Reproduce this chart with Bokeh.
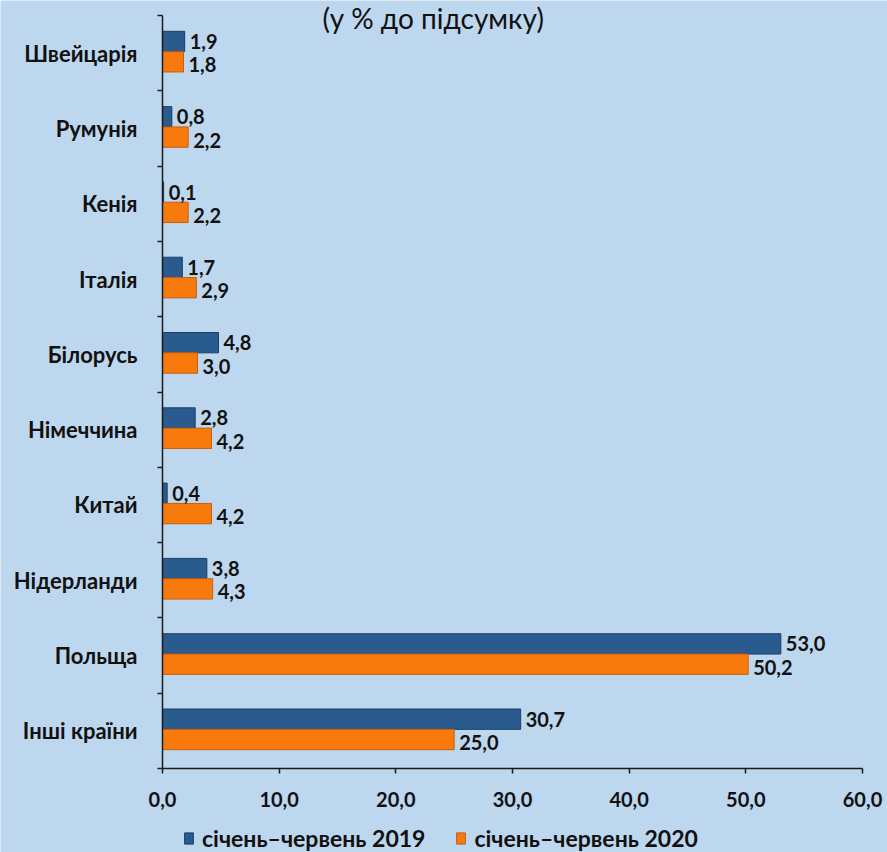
from bokeh.plotting import figure
from bokeh.models import (ColumnDataSource, Range1d, LinearAxis, FixedTicker,
                          CustomJSTickFormatter, Legend, LegendItem, Label)
from bokeh.core.properties import value
from bokeh.embed import file_html
from bokeh.resources import INLINE

# ---- data (top to bottom as in the chart) ----
countries = ["Швейцарія", "Румунія", "Кенія", "Італія", "Білорусь",
             "Німеччина", "Китай", "Нідерланди", "Польща", "Інші країни"]
v2019 = [1.9, 0.8, 0.1, 1.7, 4.8, 2.8, 0.4, 3.8, 53.0, 30.7]
v2020 = [1.8, 2.2, 2.2, 2.9, 3.0, 4.2, 4.2, 4.3, 50.2, 25.0]
x_ticks = [0, 10, 20, 30, 40, 50, 60]
series_names = ["січень–червень 2019", "січень–червень 2020"]
title_text = "(у % до підсумку)"

# ---- style / layout ----
BG = "#BDD7EE"
BLUE = "#2A5B8E"
BLUE_EDGE = "#1B3F66"
ORANGE = "#F97A0C"
ORANGE_EDGE = "#C65E10"
FONT = "Lato"
INK = "#111111"
W, HGT = 887, 852
PLOT_L, PLOT_R, PLOT_T, PLOT_B = 162, 862, 15, 768   # pixel box of the value area
XMAX = 60
n = len(countries)
px_x = (PLOT_R - PLOT_L) / XMAX
px_y = (PLOT_B - PLOT_T) / n

def fmt(v):
    return f"{v:.1f}".replace(".", ",")

# category slot k (0 = bottom) spans [k, k+1]
slot = [n - 1 - i for i in range(n)]
src = ColumnDataSource(dict(
    country=countries, slot=slot,
    y19=[s + 0.5 + 0.155 for s in slot], y20=[s + 0.5 - 0.115 for s in slot],
    v2019=v2019, v2020=v2020,
    l2019=[fmt(v) for v in v2019], l2020=[fmt(v) for v in v2020],
))

p = figure(width=W, height=HGT, output_backend="svg", toolbar_location=None,
           x_range=Range1d(-PLOT_L / px_x, (W - PLOT_L) / px_x),
           y_range=Range1d(-(HGT - PLOT_B) / px_y, n + PLOT_T / px_y),
           x_axis_location=None, y_axis_location=None,
           min_border_left=0, min_border_right=0, min_border_top=0, min_border_bottom=0)
p.background_fill_color = BG
p.border_fill_color = BG
p.outline_line_color = None
p.grid.visible = False

# x axis
xaxis = LinearAxis(ticker=FixedTicker(ticks=x_ticks, minor_ticks=[]),
                   major_label_overrides={t: fmt(t) for t in x_ticks},
                   fixed_location=0, bounds=(0, XMAX))
xaxis.axis_line_color = "#1a1a1a"
xaxis.axis_line_width = 1.5
xaxis.major_tick_line_color = "#1a1a1a"
xaxis.major_tick_line_width = 1.5
xaxis.major_tick_out = 5
xaxis.major_tick_in = 0
xaxis.minor_tick_line_color = None
xaxis.major_label_standoff = 18
xaxis.major_label_text_font = FONT
xaxis.major_label_text_font_style = "bold"
xaxis.major_label_text_font_size = "20px"
xaxis.major_label_text_color = INK
p.add_layout(xaxis, "below")

# y axis: labels at category centres, ticks at category boundaries
names_bottom_up = list(reversed(countries))
yaxis = LinearAxis(ticker=FixedTicker(ticks=[k + 0.5 for k in range(n)],
                                      minor_ticks=list(range(n + 1))),
                   formatter=CustomJSTickFormatter(args=dict(names=names_bottom_up),
                                                   code="return names[Math.floor(tick)];"),
                   fixed_location=0, bounds=(0, n))
yaxis.axis_line_color = "#1a1a1a"
yaxis.axis_line_width = 1.5
yaxis.major_tick_line_color = None
yaxis.major_tick_out = 0
yaxis.major_tick_in = 0
yaxis.minor_tick_line_color = "#1a1a1a"
yaxis.minor_tick_line_width = 1.5
yaxis.minor_tick_out = 5
yaxis.minor_tick_in = 0
yaxis.major_label_standoff = 20
yaxis.major_label_text_font = FONT
yaxis.major_label_text_font_style = "bold"
yaxis.major_label_text_font_size = "22px"
yaxis.major_label_text_color = INK
p.add_layout(yaxis, "left")

BH = 0.27
r1 = p.hbar(y="y19", left=0, right="v2019", height=BH, source=src,
            fill_color=BLUE, line_color=BLUE_EDGE, line_width=1)
r2 = p.hbar(y="y20", left=0, right="v2020", height=BH, source=src,
            fill_color=ORANGE, line_color=ORANGE_EDGE, line_width=1)

p.text(x="v2019", y="y19", text="l2019", source=src,
       x_offset=5, text_baseline="middle", text_align="left",
       text_font=value(FONT), text_font_style="bold", text_font_size="20px", text_color=INK)
p.text(x="v2020", y="y20", text="l2020", source=src,
       x_offset=5, y_offset=3, text_baseline="middle", text_align="left",
       text_font=value(FONT), text_font_style="bold", text_font_size="20px", text_color=INK)

title = Label(x=23.2, y=n - 2 / px_y, text=title_text, text_align="center",
              text_baseline="middle", text_font=FONT, text_font_size="28px",
              text_color=INK)
p.add_layout(title)

legend = Legend(items=[LegendItem(label=series_names[0], renderers=[r1]),
                       LegendItem(label=series_names[1], renderers=[r2])],
                location=(183, 0), orientation="horizontal",
                padding=0, margin=0, spacing=30, label_standoff=8,
                glyph_width=11, glyph_height=14,
                label_text_font=FONT, label_text_font_style="bold",
                label_text_font_size="23px", label_text_color=INK,
                background_fill_alpha=0, border_line_color=None)
p.add_layout(legend, "center")

open("out.html", "w").write(file_html(p, INLINE))
